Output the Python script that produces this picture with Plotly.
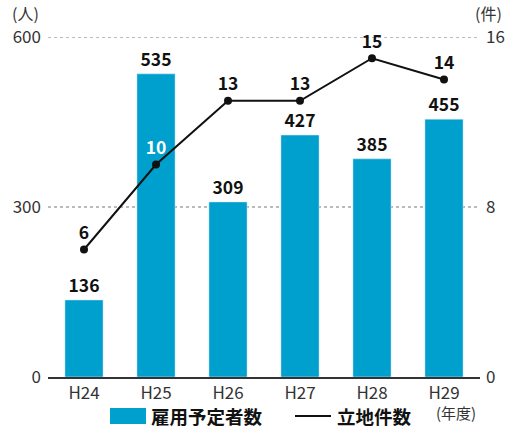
import plotly.graph_objects as go

years = ["H24", "H25", "H26", "H27", "H28", "H29"]
employees = [136, 535, 309, 427, 385, 455]
sites = [6, 10, 13, 13, 15, 14]
site_text_colors = ["#111", "white", "#111", "#111", "#111", "#111"]
grid_values = [300, 600]

BAR = "#00A0CE"
FONT = "Noto Sans CJK JP"

fig = go.Figure()
fig.add_trace(go.Bar(
    x=years, y=employees, marker_color=BAR, width=0.53,
    text=[str(v) for v in employees], textposition="outside",
    textfont=dict(family=FONT, size=17.5, color="#111", weight="bold"),
    cliponaxis=False, showlegend=False, yaxis="y"))
fig.add_trace(go.Scatter(
    x=years, y=sites, mode="lines+markers+text", yaxis="y2",
    line=dict(color="#111", width=2), marker=dict(color="#111", size=8),
    text=[str(v) for v in sites], textposition="top center",
    textfont=dict(family=FONT, size=17.5, color=site_text_colors, weight="bold"),
    cliponaxis=False, showlegend=False))

fig.update_layout(
    width=506, height=432, margin=dict(l=48, r=26, t=37, b=55, autoexpand=False),
    plot_bgcolor="white", paper_bgcolor="white",
    font=dict(family=FONT, size=17, color="#333"),
    xaxis=dict(showline=True, linecolor="#333", linewidth=1.5, ticks="",
               tickfont=dict(size=17), showgrid=False, automargin=False),
    yaxis=dict(range=[0, 600], tickvals=[0, 300, 600], showgrid=False,
               zeroline=False, showline=False, tickfont=dict(size=17),
               ticklabelstandoff=6, automargin=False),
    yaxis2=dict(range=[0, 16], tickvals=[0, 8, 16], overlaying="y", side="right",
                showgrid=False, zeroline=False, showline=False,
                tickfont=dict(size=17), ticklabelstandoff=5, automargin=False),
)

for g in grid_values:
    fig.add_shape(type="line", xref="paper", yref="y", x0=0, x1=1, y0=g, y1=g,
                  line=dict(color="#777", width=1, dash="3px,3px"), layer="below")

def px(x):
    return (x - 48) / 432

def py(y):
    return (377 - y) / 340

ann = [
    dict(text="(人)", x=px(10), y=py(13), xanchor="left", yanchor="middle", font=dict(size=16)),
    dict(text="(件)", x=px(504), y=py(13), xanchor="right", yanchor="middle", font=dict(size=16)),
    dict(text="(年度)", x=px(456), y=py(412), xanchor="center", yanchor="middle", font=dict(size=15)),
    dict(text="<b>雇用予定者数</b>", x=px(149), y=py(416), xanchor="left", yanchor="middle", font=dict(size=18.5, color="#111")),
    dict(text="<b>立地件数</b>", x=px(335), y=py(416), xanchor="left", yanchor="middle", font=dict(size=18.5, color="#111")),
]
for a in ann:
    a.update(xref="paper", yref="paper", showarrow=False)
fig.update_layout(annotations=ann)

fig.add_shape(type="rect", xref="paper", yref="paper",
              x0=px(110), x1=px(146), y0=py(424), y1=py(408),
              fillcolor=BAR, line=dict(width=0))
fig.add_shape(type="line", xref="paper", yref="paper",
              x0=px(295), x1=px(331), y0=py(416), y1=py(416),
              line=dict(color="#111", width=2))

fig.write_html("out.html")
